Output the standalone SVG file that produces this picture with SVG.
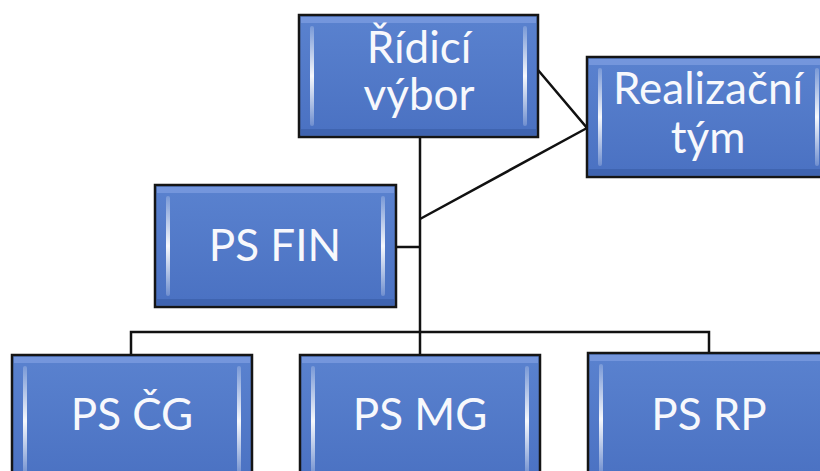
<svg xmlns="http://www.w3.org/2000/svg" width="820" height="471" viewBox="0 0 820 471">
<defs>
<linearGradient id="strip" x1="0" y1="0" x2="0" y2="1">
<stop offset="0" stop-color="#ffffff" stop-opacity="0.2"/>
<stop offset="0.5" stop-color="#ffffff" stop-opacity="0.95"/>
<stop offset="1" stop-color="#ffffff" stop-opacity="0.2"/>
</linearGradient>
<linearGradient id="face" x1="0" y1="0" x2="0" y2="1">
<stop offset="0" stop-color="#5a82cf"/>
<stop offset="1" stop-color="#4a71c2"/>
</linearGradient>
</defs>
<style>
.box{fill:url(#face);stroke:#151515;stroke-width:2.5}
.bevT{fill:#7b9be0;opacity:0.8}
.bevB{fill:#3a5ea8;opacity:0.7}
.strip{fill:url(#strip)}
.lbl{font-family:Lato,"Open Sans","Liberation Sans",sans-serif;font-size:44px;fill:#f7f8fc;text-anchor:middle}
.con{stroke:#111;stroke-width:2.5;fill:none}
</style>
<rect width="820" height="471" fill="#ffffff"/>
<g id="connectors">
<line class="con" x1="420" y1="137" x2="420" y2="355"/>
<line class="con" x1="396" y1="247" x2="420" y2="247"/>
<polyline class="con" points="538,70 587,128 420,219"/>
<polyline class="con" points="131,355 131,332 709,332 709,353"/>
</g>
<g id="n-ridici">
<rect class="box" x="299" y="15" width="239" height="122"/>
<rect class="bevT" x="301" y="17" width="235" height="6"/>
<rect class="bevB" x="301" y="129" width="235" height="6"/>
<rect class="strip" x="310" y="26" width="4" height="100" rx="2"/>
<rect class="strip" x="523" y="26" width="4" height="100" rx="2"/>
<text class="lbl" x="419" y="63">Řídicí</text>
<text class="lbl" x="419" y="110">výbor</text>
</g>
<g id="n-realizacni">
<rect class="box" x="587" y="57" width="243" height="120"/>
<rect class="bevT" x="589" y="59" width="239" height="6"/>
<rect class="bevB" x="589" y="169" width="239" height="6"/>
<rect class="strip" x="598" y="68" width="4" height="98" rx="2"/>
<rect class="strip" x="815" y="68" width="4" height="98" rx="2"/>
<text class="lbl" x="708" y="104">Realizační</text>
<text class="lbl" x="708" y="153">tým</text>
</g>
<g id="n-psfin">
<rect class="box" x="155" y="185" width="241" height="122"/>
<rect class="bevT" x="157" y="187" width="237" height="6"/>
<rect class="bevB" x="157" y="299" width="237" height="6"/>
<rect class="strip" x="166" y="196" width="4" height="100" rx="2"/>
<rect class="strip" x="381" y="196" width="4" height="100" rx="2"/>
<text class="lbl" x="275" y="261">PS FIN</text>
</g>
<g id="n-pscg">
<rect class="box" x="12" y="355" width="240" height="130"/>
<rect class="bevT" x="14" y="357" width="236" height="6"/>
<rect class="strip" x="23" y="366" width="4" height="110" rx="2"/>
<rect class="strip" x="237" y="366" width="4" height="110" rx="2"/>
<text class="lbl" x="132" y="430">PS ČG</text>
</g>
<g id="n-psmg">
<rect class="box" x="300" y="355" width="240" height="130"/>
<rect class="bevT" x="302" y="357" width="236" height="6"/>
<rect class="strip" x="311" y="366" width="4" height="110" rx="2"/>
<rect class="strip" x="525" y="366" width="4" height="110" rx="2"/>
<text class="lbl" x="420" y="430">PS MG</text>
</g>
<g id="n-psrp">
<rect class="box" x="588" y="353" width="242" height="130"/>
<rect class="bevT" x="590" y="355" width="238" height="6"/>
<rect class="strip" x="599" y="364" width="4" height="110" rx="2"/>
<text class="lbl" x="709" y="430">PS RP</text>
</g>
</svg>
